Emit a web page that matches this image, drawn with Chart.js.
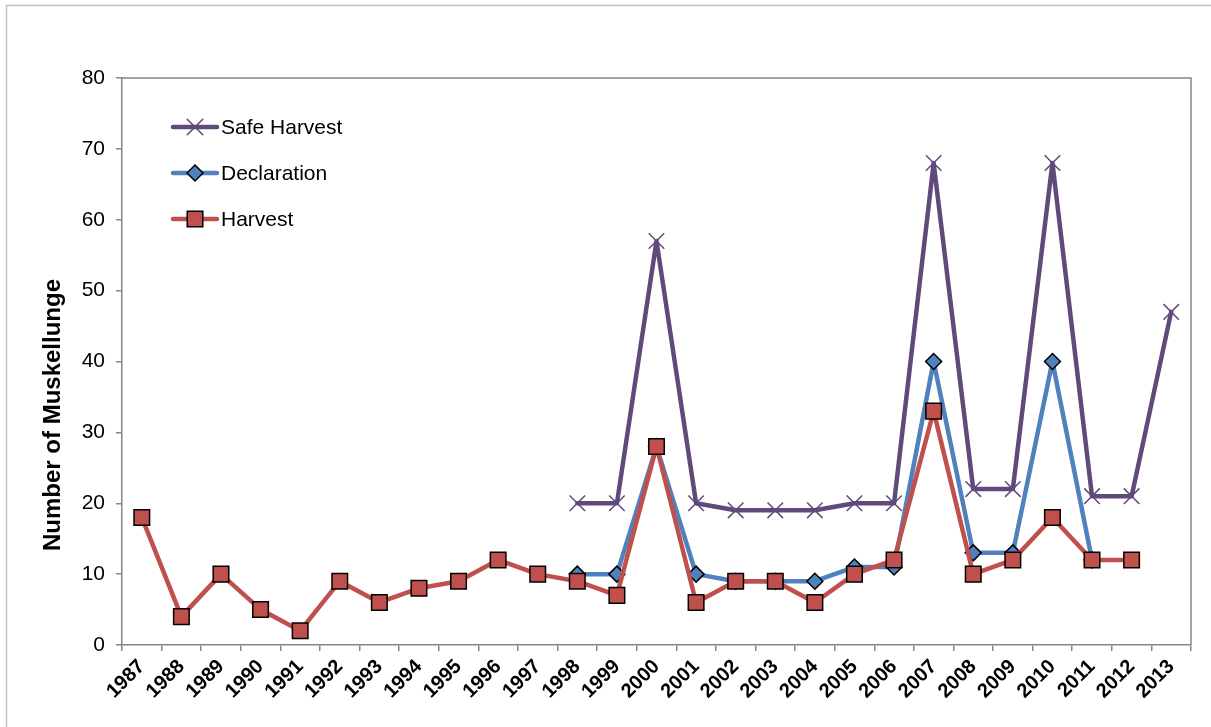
<!DOCTYPE html>
<html>
<head>
<meta charset="utf-8">
<script src="https://cdn.jsdelivr.net/npm/chart.js@4.4.1/dist/chart.umd.min.js"></script>
<style>
  html, body { margin: 0; padding: 0; background: #fff; }
  #wrap { position: relative; width: 1211px; height: 727px; }
</style>
</head>
<body>
<div id="wrap"><canvas id="chart" width="1211" height="727"></canvas></div>
<script>
// Datos
const years = ['1987','1988','1989','1990','1991','1992','1993','1994','1995','1996','1997','1998','1999',
  '2000','2001','2002','2003','2004','2005','2006','2007','2008','2009','2010','2011','2012','2013'];
const harvest = [18, 4, 10, 5, 2, 9, 6, 8, 9, 12, 10, 9, 7, 28, 6, 9, 9, 6, 10, 12, 33, 10, 12, 18, 12, 12, null];
const declaration = [null, null, null, null, null, null, null, null, null, null, null, 10, 10, 28, 10, 9, 9, 9, 11, 11, 40, 13, 13, 40, 12, null, null];
const safeHarvest = [null, null, null, null, null, null, null, null, null, null, null, 20, 20, 57, 20, 19, 19, 19, 20, 20, 68, 22, 22, 68, 21, 21, 47];
const yTicks = [0, 10, 20, 30, 40, 50, 60, 70, 80];

const FONT = "'Liberation Sans', Arial, sans-serif";
const AXIS_GREY = '#868686';

// Marco exterior, borde del área de trazado, leyenda y título del eje Y
const decorPlugin = {
  id: 'decor',
  beforeDraw(chart) {
    const ctx = chart.ctx;
    ctx.save();
    ctx.strokeStyle = '#BFBFBF';
    ctx.lineWidth = 1.5;
    ctx.strokeRect(6.5, 5.5, 1220, 740);
    const a = chart.chartArea;
    ctx.strokeStyle = AXIS_GREY;
    ctx.lineWidth = 1.5;
    ctx.beginPath();
    ctx.moveTo(a.left, a.top);
    ctx.lineTo(a.right, a.top);
    ctx.lineTo(a.right, a.bottom);
    ctx.stroke();
    ctx.restore();
  },
  afterDraw(chart) {
    const ctx = chart.ctx;
    ctx.save();
    // título eje Y
    ctx.translate(53, 415);
    ctx.rotate(-Math.PI / 2);
    ctx.fillStyle = '#000';
    ctx.font = 'bold 24px ' + FONT;
    ctx.textAlign = 'center';
    ctx.textBaseline = 'middle';
    ctx.fillText('Number of Muskellunge', 0, 0);
    ctx.restore();

    // leyenda (orden inverso: Safe Harvest arriba)
    const order = [2, 1, 0];
    order.forEach((idx, i) => {
      const ds = chart.data.datasets[idx];
      const y = 127 + i * 46;
      ctx.save();
      ctx.strokeStyle = ds.borderColor;
      ctx.lineWidth = ds.borderWidth;
      ctx.lineCap = 'round';
      ctx.beginPath();
      ctx.moveTo(173, y);
      ctx.lineTo(217, y);
      ctx.stroke();
      ctx.fillStyle = ds.pointBackgroundColor;
      ctx.strokeStyle = ds.pointBorderColor;
      ctx.lineWidth = ds.pointBorderWidth;
      Chart.helpers.drawPoint(ctx, {
        pointStyle: ds.pointStyle, radius: ds.pointRadius, rotation: 0, borderWidth: ds.pointBorderWidth
      }, 195, y);
      ctx.fillStyle = '#000';
      ctx.font = '21px ' + FONT;
      ctx.textAlign = 'left';
      ctx.textBaseline = 'middle';
      ctx.fillText(ds.label, 221, y + 1);
      ctx.restore();
    });
  }
};

const ctx = document.getElementById('chart').getContext('2d');
const chart = new Chart(ctx, {
  type: 'line',
  data: {
    labels: years,
    datasets: [{
      label: 'Harvest',
      data: harvest,
      borderColor: '#C0504D',
      borderWidth: 4.5,
      pointStyle: 'rect',
      pointRadius: 11,
      pointBackgroundColor: '#C0504D',
      pointBorderColor: '#000',
      pointBorderWidth: 1.5,
      borderJoinStyle: 'round',
      borderCapStyle: 'round',
      tension: 0
    }, {
      label: 'Declaration',
      data: declaration,
      borderColor: '#4F81BD',
      borderWidth: 4.5,
      pointStyle: 'rectRot',
      pointRadius: 8,
      pointBackgroundColor: '#4F81BD',
      pointBorderColor: '#000',
      pointBorderWidth: 1.5,
      borderJoinStyle: 'round',
      borderCapStyle: 'round',
      tension: 0
    }, {
      label: 'Safe Harvest',
      data: safeHarvest,
      borderColor: '#604A7B',
      borderWidth: 4.5,
      pointStyle: 'crossRot',
      pointRadius: 11,
      pointBackgroundColor: '#604A7B',
      pointBorderColor: '#604A7B',
      pointBorderWidth: 1.5,
      borderJoinStyle: 'round',
      borderCapStyle: 'round',
      tension: 0
    }]
  },
  options: {
    responsive: false,
    animation: false,
    layout: {
      padding: { left: 0, right: 20, top: 78, bottom: 0 }
    },
    scales: {
      x: {
        type: 'category',
        offset: true,
        grid: {
          offset: true,
          drawOnChartArea: false,
          drawTicks: true,
          tickLength: 6,
          color: AXIS_GREY,
          lineWidth: 1.5
        },
        border: { display: true, color: AXIS_GREY, width: 1.5 },
        ticks: {
          color: '#000',
          font: { family: FONT, size: 20, weight: 'bold' },
          maxRotation: 45,
          minRotation: 45,
          autoSkip: false,
          padding: 4
        },
        afterFit(scale) { scale.height = 82; }
      },
      y: {
        min: 0,
        max: 80,
        afterBuildTicks(scale) { scale.ticks = yTicks.map(v => ({ value: v })); },
        grid: {
          drawOnChartArea: false,
          drawTicks: true,
          tickLength: 6,
          color: AXIS_GREY,
          lineWidth: 1.5
        },
        border: { display: true, color: AXIS_GREY, width: 1.5 },
        ticks: {
          color: '#000',
          font: { family: FONT, size: 21 },
          padding: 11
        },
        afterFit(scale) { scale.width = 122; }
      }
    },
    plugins: {
      legend: { display: false },
      tooltip: { enabled: false }
    }
  },
  plugins: [decorPlugin]
});
</script>
</body>
</html>
